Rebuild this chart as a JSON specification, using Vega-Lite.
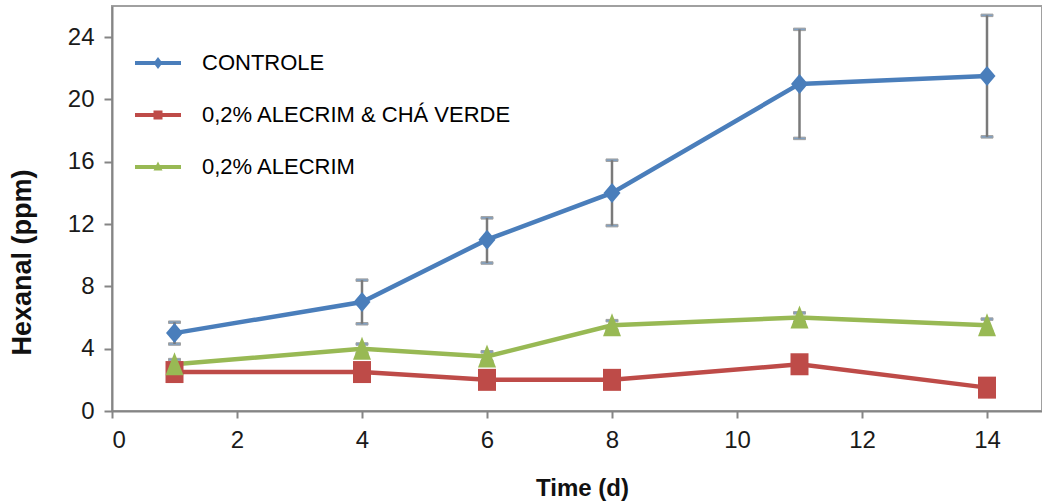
{
  "$schema": "https://vega.github.io/schema/vega-lite/v6.json",
  "width": 930,
  "height": 405,
  "autosize": {"type": "none"},
  "padding": {"left": 112, "top": 6, "right": 0, "bottom": 91},
  "background": "white",
  "data": {
    "values": [
      {"day": 1, "series": "CONTROLE", "value": 5.0, "lo": 4.3, "hi": 5.7},
      {"day": 4, "series": "CONTROLE", "value": 7.0, "lo": 5.6, "hi": 8.4},
      {"day": 6, "series": "CONTROLE", "value": 11.0, "lo": 9.5, "hi": 12.4},
      {"day": 8, "series": "CONTROLE", "value": 14.0, "lo": 11.9, "hi": 16.1},
      {"day": 11, "series": "CONTROLE", "value": 21.0, "lo": 17.5, "hi": 24.5},
      {"day": 14, "series": "CONTROLE", "value": 21.5, "lo": 17.6, "hi": 25.4},
      {"day": 1, "series": "0,2% ALECRIM & CHÁ VERDE", "value": 2.5},
      {"day": 4, "series": "0,2% ALECRIM & CHÁ VERDE", "value": 2.5},
      {"day": 6, "series": "0,2% ALECRIM & CHÁ VERDE", "value": 2.0},
      {"day": 8, "series": "0,2% ALECRIM & CHÁ VERDE", "value": 2.0},
      {"day": 11, "series": "0,2% ALECRIM & CHÁ VERDE", "value": 3.0},
      {"day": 14, "series": "0,2% ALECRIM & CHÁ VERDE", "value": 1.5},
      {"day": 1, "series": "0,2% ALECRIM", "value": 3.0, "lo": 2.7, "hi": 3.3},
      {"day": 4, "series": "0,2% ALECRIM", "value": 4.0, "lo": 3.7, "hi": 4.3},
      {"day": 6, "series": "0,2% ALECRIM", "value": 3.5, "lo": 3.2, "hi": 3.8},
      {"day": 8, "series": "0,2% ALECRIM", "value": 5.5, "lo": 5.2, "hi": 5.8},
      {"day": 11, "series": "0,2% ALECRIM", "value": 6.0, "lo": 5.7, "hi": 6.3},
      {"day": 14, "series": "0,2% ALECRIM", "value": 5.5, "lo": 5.1, "hi": 5.9}
    ]
  },
  "config": {
    "view": {"stroke": "#a0a0a0", "strokeWidth": 2},
    "font": "Liberation Sans",
    "axis": {
      "grid": false,
      "domainColor": "#858585",
      "domainWidth": 2,
      "tickColor": "#858585",
      "tickWidth": 2,
      "labelFont": "Liberation Sans",
      "labelFontSize": 24,
      "labelColor": "#1a1a1a",
      "titleFont": "Liberation Sans",
      "titleFontWeight": "bold",
      "titleColor": "#111111",
      "format": "d"
    },
    "axisX": {
      "tickSize": 7,
      "labelPadding": 10,
      "titleFontSize": 24,
      "titleX": 470,
      "titleY": 84,
      "titleAlign": "center",
      "titleBaseline": "alphabetic"
    },
    "axisY": {
      "tickSize": 8,
      "labelPadding": 10,
      "titleFontSize": 27,
      "titleX": -90,
      "titleY": 256,
      "titleAngle": -90,
      "titleAlign": "center",
      "titleBaseline": "middle"
    }
  },
  "resolve": {"scale": {"shape": "independent"}, "legend": {"shape": "independent"}},
  "layer": [
    {
      "transform": [{"filter": "isValid(datum.lo)"}],
      "mark": {
        "type": "errorbar",
        "rule": {"stroke": "#7a7a7a", "strokeWidth": 2.5},
        "ticks": {"stroke": "#7a7a7a", "size": 12, "thickness": 2.5}
      },
      "encoding": {
        "x": {"field": "day", "type": "quantitative", "scale": {"domain": [0, 14.88], "nice": false}, "axis": {"values": [0, 2, 4, 6, 8, 10, 12, 14], "format": "d"}, "title": "Time (d)"},
        "y": {"field": "lo", "type": "quantitative", "scale": {"domain": [0, 26], "nice": false}, "axis": {"values": [0, 4, 8, 12, 16, 20, 24], "format": "d"}, "title": "Hexanal (ppm)"},
        "y2": {"field": "hi"},
        "detail": {"field": "series"}
      }
    },
    {
      "mark": {"type": "line", "strokeWidth": 4.5},
      "encoding": {
        "x": {"field": "day", "type": "quantitative", "title": "Time (d)"},
        "y": {"field": "value", "type": "quantitative", "title": "Hexanal (ppm)"},
        "color": {
          "field": "series", "type": "nominal",
          "scale": {"domain": ["CONTROLE", "0,2% ALECRIM & CHÁ VERDE", "0,2% ALECRIM"], "range": ["#4A7EBB", "#BE4B48", "#98B954"]},
          "legend": null
        },
        "order": {"field": "day"}
      }
    },
    {
      "mark": {"type": "point", "filled": true, "opacity": 1, "size": 100},
      "encoding": {
        "x": {"field": "day", "type": "quantitative", "title": "Time (d)"},
        "y": {"field": "value", "type": "quantitative", "title": "Hexanal (ppm)"},
        "color": {"field": "series", "type": "nominal", "legend": null},
        "shape": {
          "field": "series", "type": "nominal",
          "scale": {
            "domain": ["CONTROLE", "0,2% ALECRIM & CHÁ VERDE", "0,2% ALECRIM"],
            "range": ["M0,-2L1.7,0L0,2L-1.7,0Z", "M-1.8,-2.2H1.8V2.2H-1.8Z", "M0,-2.4L1.8,2.2L-1.8,2.2Z"]
          },
          "legend": null
        }
      }
    },
    {
      "transform": [{"filter": "false"}],
      "mark": {"type": "point", "filled": true, "opacity": 1, "size": 100},
      "encoding": {
        "x": {"field": "day", "type": "quantitative", "title": "Time (d)"},
        "y": {"field": "value", "type": "quantitative", "title": "Hexanal (ppm)"},
        "color": {"field": "series", "type": "nominal", "legend": null},
        "shape": {
          "field": "series", "type": "nominal",
          "scale": {
            "domain": ["CONTROLE", "0,2% ALECRIM & CHÁ VERDE", "0,2% ALECRIM"],
            "range": [
              "M-4.6,-0.4H-0.6L0,-1.2L0.6,-0.4H4.6V0.4H0.6L0,1.2L-0.6,0.4H-4.6Z",
              "M-4.6,-0.4H-0.9V-0.9H0.9V-0.4H4.6V0.4H0.9V0.9H-0.9V0.4H-4.6Z",
              "M-4.6,-0.4H-0.35L0,-1.1L0.35,-0.4H4.6V0.4H0.75L0.9,0.7H-0.9L-0.75,0.4H-4.6Z"
            ]
          },
          "legend": {
            "orient": "none", "legendX": 35, "legendY": 46, "title": null,
            "labelFont": "Liberation Sans", "labelFontSize": 22, "labelColor": "#000000", "labelLimit": 500,
            "symbolSize": 100, "symbolStrokeWidth": 0, "symbolOpacity": 1, "symbolFillColor": "#000000",
            "labelOffset": 33, "rowPadding": 30, "padding": 0,
            "encode": {"symbols": {"update": {"fill": {"signal": "scale('color', datum.value)"}, "stroke": {"value": "transparent"}}}}
          }
        }
      }
    }
  ]
}
